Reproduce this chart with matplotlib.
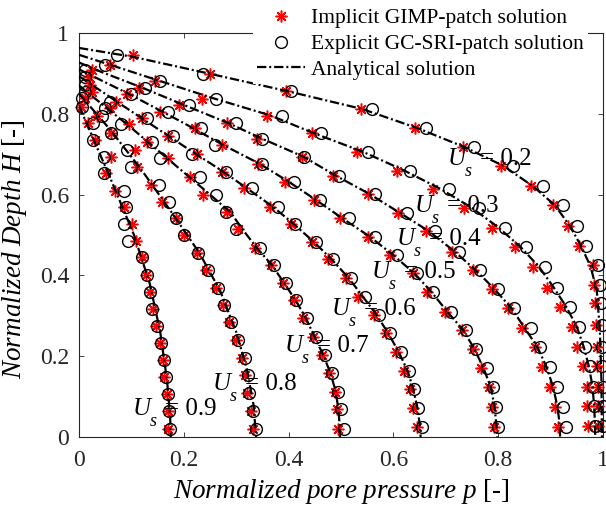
import matplotlib
matplotlib.use("Agg")
import matplotlib.pyplot as plt

plt.rcParams['font.family'] = ['Liberation Serif', 'DejaVu Serif']
plt.rcParams['mathtext.fontset'] = 'custom'
plt.rcParams['mathtext.rm'] = 'Liberation Serif'
plt.rcParams['mathtext.it'] = 'Liberation Serif:italic'

# ---- data (p = pore pressure, H = depth) ----
U_values = [0.2, 0.3, 0.4, 0.5, 0.6, 0.7, 0.8, 0.9]

# U_s = 0.2
H_02 = [0.026, 0.077, 0.125, 0.175, 0.224, 0.277, 0.331, 0.376, 0.426, 0.473,
        0.522, 0.574, 0.621, 0.671, 0.719, 0.766, 0.811, 0.857, 0.898, 0.946]
star_02 = [0.990, 0.990, 0.990, 0.989, 0.988, 0.987, 0.985, 0.983, 0.980, 0.955,
           0.934, 0.904, 0.863, 0.805, 0.732, 0.641, 0.538, 0.395, 0.250, 0.104]
circ_02 = [1.000, 1.000, 1.000, 0.999, 0.999, 0.998, 0.997, 0.995, 0.991, 0.968,
           0.951, 0.923, 0.885, 0.829, 0.753, 0.662, 0.559, 0.405, 0.237, 0.072]
line_p_02 = [0.0, 0.103, 0.25, 0.398, 0.54, 0.645, 0.735, 0.81, 0.866, 0.908,
             0.937, 0.958, 0.976, 0.988, 0.994, 0.997, 0.998]
line_H_02 = [0.963, 0.941, 0.899, 0.856, 0.812, 0.765, 0.718, 0.671, 0.621, 0.574,
             0.522, 0.473, 0.423, 0.364, 0.265, 0.141, 0.0]

# U_s = 0.3
H_03 = [0.026, 0.077, 0.125, 0.175, 0.224, 0.273, 0.321, 0.370, 0.421, 0.470,
        0.517, 0.566, 0.613, 0.659, 0.706, 0.752, 0.795, 0.837, 0.880, 0.921]
star_03 = [0.972, 0.970, 0.969, 0.961, 0.950, 0.940, 0.917, 0.894, 0.867, 0.832,
           0.788, 0.735, 0.676, 0.607, 0.530, 0.444, 0.358, 0.234, 0.145, 0.059]
circ_03 = [0.985, 0.982, 0.980, 0.976, 0.966, 0.955, 0.937, 0.913, 0.889, 0.854,
           0.813, 0.764, 0.707, 0.632, 0.552, 0.462, 0.387, 0.261, 0.155, 0.050]
line_p_03 = [0.0, 0.06, 0.155, 0.255, 0.365, 0.45, 0.54, 0.62, 0.69, 0.75, 0.80,
             0.843, 0.878, 0.905, 0.93, 0.95, 0.963, 0.973, 0.98, 0.983, 0.985, 0.985]
line_H_03 = [0.946, 0.921, 0.881, 0.839, 0.796, 0.751, 0.707, 0.66, 0.614, 0.567, 0.519,
             0.47, 0.421, 0.372, 0.322, 0.273, 0.224, 0.175, 0.125, 0.077, 0.026, 0.0]

# U_s = 0.4
H_04 = [0.025, 0.075, 0.123, 0.174, 0.222, 0.269, 0.319, 0.366, 0.413, 0.459,
        0.510, 0.555, 0.601, 0.647, 0.694, 0.737, 0.778, 0.822, 0.865, 0.908]
star_04 = [0.915, 0.908, 0.899, 0.883, 0.870, 0.845, 0.819, 0.788, 0.751, 0.711,
           0.662, 0.608, 0.552, 0.484, 0.425, 0.339, 0.282, 0.191, 0.115, 0.024]
circ_04 = [0.930, 0.923, 0.913, 0.898, 0.879, 0.862, 0.830, 0.800, 0.765, 0.725,
           0.680, 0.625, 0.565, 0.497, 0.430, 0.350, 0.300, 0.210, 0.125, 0.012]
line_p_04 = [0.0, 0.04, 0.12, 0.2, 0.283, 0.352, 0.428, 0.49, 0.555, 0.612, 0.667,
             0.715, 0.757, 0.793, 0.825, 0.851, 0.875, 0.892, 0.905, 0.913, 0.918, 0.918]
line_H_04 = [0.927, 0.905, 0.865, 0.822, 0.778, 0.737, 0.694, 0.647, 0.601, 0.555, 0.51,
             0.461, 0.413, 0.366, 0.319, 0.269, 0.222, 0.174, 0.123, 0.075, 0.025, 0.0]

# U_s = 0.5
H_05 = [0.024, 0.075, 0.123, 0.170, 0.217, 0.265, 0.310, 0.360, 0.405, 0.450,
        0.496, 0.541, 0.587, 0.632, 0.676, 0.723, 0.764, 0.805, 0.848, 0.890]
star_05 = [0.792, 0.788, 0.783, 0.768, 0.751, 0.730, 0.698, 0.664, 0.638, 0.594,
           0.552, 0.499, 0.448, 0.394, 0.342, 0.272, 0.222, 0.155, 0.092, 0.020]
circ_05 = [0.800, 0.795, 0.790, 0.778, 0.758, 0.738, 0.709, 0.676, 0.645, 0.607,
           0.565, 0.515, 0.460, 0.410, 0.350, 0.260, 0.232, 0.170, 0.100, 0.012]
line_p_05 = [0.0, 0.1, 0.2, 0.275, 0.345, 0.4, 0.452, 0.503, 0.555, 0.6,
             0.64, 0.672, 0.703, 0.733, 0.755, 0.772, 0.786, 0.793, 0.797, 0.798]
line_H_05 = [0.91, 0.846, 0.777, 0.723, 0.676, 0.632, 0.587, 0.541, 0.496, 0.45,
             0.405, 0.36, 0.31, 0.265, 0.217, 0.17, 0.123, 0.075, 0.024, 0.0]

# U_s = 0.6
H_06 = [0.024, 0.071, 0.118, 0.164, 0.211, 0.257, 0.302, 0.347, 0.393, 0.440,
        0.483, 0.527, 0.570, 0.616, 0.657, 0.700, 0.745, 0.790, 0.830, 0.871]
star_06 = [0.645, 0.638, 0.632, 0.620, 0.605, 0.585, 0.563, 0.532, 0.510, 0.476,
           0.444, 0.405, 0.365, 0.314, 0.272, 0.225, 0.170, 0.120, 0.070, 0.021]
circ_06 = [0.655, 0.647, 0.640, 0.630, 0.614, 0.594, 0.573, 0.545, 0.520, 0.484,
           0.452, 0.412, 0.380, 0.330, 0.280, 0.215, 0.180, 0.130, 0.060, 0.012]
line_p_06 = [0.0, 0.1, 0.2, 0.275, 0.32, 0.37, 0.41, 0.448, 0.482, 0.515,
             0.542, 0.568, 0.59, 0.61, 0.627, 0.638, 0.646, 0.651, 0.652]
line_H_06 = [0.893, 0.806, 0.72, 0.657, 0.616, 0.57, 0.527, 0.483, 0.44, 0.393,
             0.347, 0.302, 0.257, 0.211, 0.164, 0.118, 0.071, 0.024, 0.0]

# U_s = 0.7
H_07 = [0.021, 0.069, 0.112, 0.158, 0.203, 0.247, 0.294, 0.339, 0.380, 0.426,
        0.467, 0.514, 0.558, 0.599, 0.644, 0.690, 0.730, 0.775, 0.815, 0.855]
star_07 = [0.495, 0.493, 0.488, 0.478, 0.464, 0.447, 0.428, 0.410, 0.390, 0.366,
           0.336, 0.304, 0.282, 0.237, 0.212, 0.170, 0.130, 0.095, 0.060, 0.024]
circ_07 = [0.505, 0.500, 0.495, 0.482, 0.470, 0.452, 0.435, 0.414, 0.395, 0.372,
           0.345, 0.300, 0.280, 0.262, 0.230, 0.155, 0.140, 0.080, 0.050, 0.012]
line_p_07 = [0.0, 0.1, 0.2, 0.25, 0.29, 0.312, 0.34, 0.368, 0.392, 0.413,
             0.433, 0.45, 0.466, 0.48, 0.49, 0.495, 0.498, 0.498]
line_H_07 = [0.87, 0.765, 0.655, 0.6, 0.555, 0.514, 0.467, 0.426, 0.38, 0.339,
             0.294, 0.247, 0.203, 0.158, 0.112, 0.069, 0.021, 0.0]

# U_s = 0.8
H_08 = [0.021, 0.065, 0.108, 0.153, 0.196, 0.240, 0.284, 0.327, 0.370, 0.413,
        0.455, 0.500, 0.541, 0.582, 0.624, 0.669, 0.710, 0.752, 0.795, 0.838]
star_08 = [0.333, 0.328, 0.320, 0.316, 0.312, 0.300, 0.287, 0.274, 0.262, 0.243,
           0.225, 0.200, 0.185, 0.159, 0.137, 0.110, 0.107, 0.061, 0.034, 0.011]
circ_08 = [0.338, 0.333, 0.325, 0.322, 0.316, 0.304, 0.291, 0.277, 0.266, 0.247,
           0.228, 0.200, 0.185, 0.172, 0.153, 0.100, 0.091, 0.061, 0.044, 0.006]
line_p_08 = [0.0, 0.06, 0.12, 0.18, 0.23, 0.27, 0.3, 0.32, 0.333, 0.338]
line_H_08 = [0.85, 0.76, 0.66, 0.55, 0.455, 0.36, 0.26, 0.17, 0.08, 0.0]

# U_s = 0.9
H_09 = [0.021, 0.064, 0.106, 0.148, 0.191, 0.233, 0.275, 0.317, 0.360, 0.401,
        0.445, 0.486, 0.527, 0.569, 0.610, 0.653, 0.694, 0.735, 0.777, 0.818]
star_09 = [0.170, 0.169, 0.167, 0.163, 0.160, 0.154, 0.147, 0.142, 0.136, 0.128,
           0.120, 0.109, 0.102, 0.085, 0.069, 0.052, 0.062, 0.031, 0.018, 0.004]
circ_09 = [0.173, 0.172, 0.170, 0.166, 0.162, 0.156, 0.148, 0.140, 0.135, 0.129,
           0.120, 0.094, 0.086, 0.090, 0.085, 0.048, 0.048, 0.026, 0.026, 0.005]
line_p_09 = [0.0, 0.06, 0.105, 0.135, 0.155, 0.168, 0.174, 0.175]
line_H_09 = [0.82, 0.64, 0.5, 0.38, 0.26, 0.14, 0.05, 0.0]

# where each "U_s = ..." label sits (left/baseline of the U)
label_p = [0.704, 0.641, 0.607, 0.559, 0.483, 0.393, 0.256, 0.103]
label_H = [0.673, 0.557, 0.475, 0.394, 0.302, 0.210, 0.116, 0.054]

ticks = [0, 0.2, 0.4, 0.6, 0.8, 1]
tick_labels = ['0', '0.2', '0.4', '0.6', '0.8', '1']

curves = [
    (H_02, star_02, circ_02, line_p_02, line_H_02),
    (H_03, star_03, circ_03, line_p_03, line_H_03),
    (H_04, star_04, circ_04, line_p_04, line_H_04),
    (H_05, star_05, circ_05, line_p_05, line_H_05),
    (H_06, star_06, circ_06, line_p_06, line_H_06),
    (H_07, star_07, circ_07, line_p_07, line_H_07),
    (H_08, star_08, circ_08, line_p_08, line_H_08),
    (H_09, star_09, circ_09, line_p_09, line_H_09),
]

fig = plt.figure(figsize=(6.06, 5.11), dpi=100)
ax = fig.add_axes([79 / 606, 74 / 511, 524 / 606, 404 / 511])

dash_dot = (0, (4.2, 1.3, 0.9, 1.3))
axis_grey = '#262626'

for i, (H, ps, pc, lp, lh) in enumerate(curves):
    ax.plot(ps, H, linestyle='none', marker=(8, 2, 0), markersize=8.5,
            markeredgewidth=1.1, color='red', clip_on=False,
            label='Implicit GIMP-patch solution' if i == 0 else None, zorder=3)
    ax.plot(pc, H, linestyle='none', marker='o', markersize=8.5,
            markerfacecolor='none', markeredgecolor='black', markeredgewidth=1.0,
            clip_on=False,
            label='Explicit GC-SRI-patch solution' if i == 0 else None, zorder=3)
    ax.plot(lp, lh, color='black', linewidth=1.6, linestyle=dash_dot,
            label='Analytical solution' if i == 0 else None, zorder=4)

# "U_s = 0.x" labels, MATLAB style subscript
for u, lx, ly in zip(U_values, label_p, label_H):
    ax.annotate('U', xy=(lx, ly), fontsize=18, style='italic',
                ha='left', va='baseline', zorder=6)
    ax.annotate('s', xy=(lx, ly), xytext=(17, -11), textcoords='offset pixels',
                fontsize=13, style='italic', ha='left', va='baseline', zorder=6)
    ax.annotate('= %.1f' % u, xy=(lx, ly), xytext=(32, 0), textcoords='offset pixels',
                fontsize=18, ha='left', va='baseline', zorder=6)

ax.set_xlim(0, 1)
ax.set_ylim(0, 1)
ax.set_xticks(ticks)
ax.set_xticklabels(tick_labels)
ax.set_yticks(ticks)
ax.set_yticklabels(tick_labels)
ax.tick_params(direction='in', length=3.6, width=0.6, top=True, right=True,
               labelsize=17, colors=axis_grey)
ax.tick_params(axis='x', pad=9)
ax.tick_params(axis='y', pad=7)
for side in ax.spines.values():
    side.set_linewidth(0.8)
    side.set_color(axis_grey)

ax.set_xlabel(r'$Normalized\ pore\ pressure\ p$ [-]', fontsize=19.5, labelpad=5)
ax.set_ylabel(r'$Normalized\ Depth\ H$ [-]', fontsize=19.5, labelpad=6)
ax.yaxis.set_label_coords(-0.095, 0.465)

leg = ax.legend(loc='upper left', bbox_to_anchor=(253 / 606, 1 - 4 / 511),
                bbox_transform=fig.transFigure, fontsize=15.5, frameon=True,
                framealpha=1, facecolor='white', edgecolor='none', fancybox=False,
                borderpad=0.2, borderaxespad=0, labelspacing=0.26,
                handlelength=2.2, handletextpad=0.3)
leg.set_zorder(10)

fig.savefig('out.png', dpi=100, facecolor='white')
